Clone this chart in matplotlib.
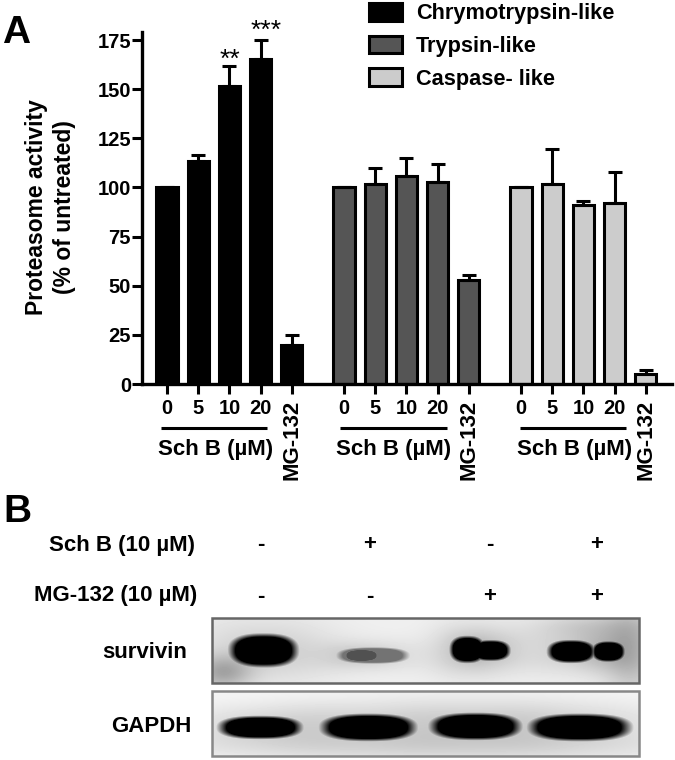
import matplotlib
matplotlib.use('Agg')
import matplotlib.pyplot as plt
import numpy as np
from matplotlib.patches import Rectangle

plt.rcParams['font.family'] = ['Liberation Sans', 'DejaVu Sans']
plt.rcParams['font.weight'] = 'bold'

# panel A values
doses = ['0', '5', '10', '20', 'MG-132']
chymo = [100, 113.5, 151.5, 165.5, 20]
chymo_err = [0, 3, 10.5, 9.5, 5]
tryp = [100, 101.5, 106, 103, 53]
tryp_err = [0, 8.5, 9, 9, 2.5]
casp = [100, 101.5, 91, 92, 5]
casp_err = [0, 18, 2, 16, 2]
names = ['Chrymotrypsin-like', 'Trypsin-like', 'Caspase- like']
colors = ['#000000', '#555555', '#cccccc']
yticks = [0, 25, 50, 75, 100, 125, 150, 175]

# panel B lane marks
lane_x = [261, 370, 490, 597]
schb_marks = ['-', '+', '-', '+']
mg_marks = ['-', '-', '+', '+']
# bands: centre x, centre y, half width, half height, darkness (image pixels)
survivin_bands = [(263, 650, 33, 16, 1.0), (372, 655, 35, 8, 0.55), (361, 655, 17, 6, 0.68),
                  (467, 649, 17, 13, 1.0), (490, 650, 19, 10, 1.0),
                  (571, 651, 23, 11, 1.0), (608, 651, 16, 10, 1.0)]
gapdh_bands = [(260, 727, 40, 11, 1.0), (368, 727, 46, 13, 1.0),
               (475, 726, 44, 13, 1.0), (579, 727, 49, 13, 1.0)]
# faint smears in the blot background
survivin_smears = [(222, 672, 20, 12, 0.25), (632, 650, 20, 35, 0.2), (590, 625, 40, 10, 0.12)]
gapdh_smears = [(420, 748, 210, 10, 0.06)]


def blot(ax, box, bands, smears, level, edge):
    x0, y0, x1, y1 = box
    xx, yy = np.meshgrid(np.arange(x0, x1), np.arange(y0, y1))
    dark = np.full(xx.shape, 1.0 - level)
    for cx, cy, w, h, s in smears:
        dark += s * np.exp(-0.5 * (((xx - cx) / w) ** 2 + ((yy - cy) / h) ** 2))
    for cx, cy, w, h, s in bands:
        r = (np.abs((xx - cx) / w) ** 2.5 + np.abs((yy - cy) / h) ** 2.5) ** (1 / 2.5)
        dark += 0.12 * s * np.exp(-0.5 * (r / 1.4) ** 2)
    for cx, cy, w, h, s in bands:
        r = (np.abs((xx - cx) / w) ** 2.5 + np.abs((yy - cy) / h) ** 2.5) ** (1 / 2.5)
        dark = np.maximum(dark, s * np.clip((1.15 - r) / 0.3, 0, 1))
    ax.imshow(1 - np.clip(dark, 0, 1), cmap='gray', vmin=0, vmax=1, extent=(x0, x1, y1, y0),
              aspect='auto', interpolation='bilinear')
    ax.add_patch(Rectangle((x0, y0), x1 - x0, y1 - y0, fill=False, ec=edge, lw=1.8))


fig = plt.figure(figsize=(6.75, 7.6), dpi=100)

# axes box in pixels: x 142-672, y 32-384
ax = fig.add_axes([142 / 675, 1 - 384 / 760, 530 / 675, 352 / 760])
unit = 31.2
gap = 177 / unit
pos = np.arange(5)
handles = []
for g, (vals, errs, col) in enumerate([(chymo, chymo_err, colors[0]),
                                       (tryp, tryp_err, colors[1]),
                                       (casp, casp_err, colors[2])]):
    x = pos + g * gap
    b = ax.bar(x, vals, width=0.68, color=col, edgecolor='black', linewidth=2.2)
    handles.append(b)
    ax.errorbar(x, vals, yerr=[np.zeros(5), errs], fmt='none', ecolor='black',
                elinewidth=2.2, capsize=5, capthick=2.2)

ax.set_xlim(-25 / unit, 505 / unit)
ax.set_ylim(0, 352 / (344 / 175))
ax.set_yticks(yticks)
ax.set_xticks(np.concatenate([pos + g * gap for g in range(3)]))
ax.set_xticklabels(doses * 3, va='top')
ax.tick_params(axis='both', width=2.2, length=7)
ax.tick_params(axis='y', pad=1, labelsize=14.5)
ax.tick_params(axis='x', pad=4)
for lab in ax.get_xticklabels():
    if lab.get_text() == 'MG-132':
        lab.set_rotation(90)
        lab.set_fontsize(16)
    else:
        lab.set_fontsize(14.5)
for side in ['top', 'right']:
    ax.spines[side].set_visible(False)
for side in ['left', 'bottom']:
    ax.spines[side].set_linewidth(2.4)
ax.patch.set_alpha(0)

ax.legend(handles, names, loc='upper left', bbox_to_anchor=(369 / 675, 1 - 3 / 760),
          bbox_transform=fig.transFigure, frameon=False, fontsize=15.7, borderpad=0,
          borderaxespad=0, handlelength=1.5, handleheight=0.88, labelspacing=0.515,
          handletextpad=0.66)

# full figure overlay in image pixels for the lettering and panel B
over = fig.add_axes([0, 0, 1, 1])
over.set_axis_off()
over.patch.set_alpha(0)
blot(over, (212, 618, 639, 683), survivin_bands, survivin_smears, 0.94, '#666666')
blot(over, (212, 691, 639, 756), gapdh_bands, gapdh_smears, 0.97, '#888888')
over.set_xlim(0, 675)
over.set_ylim(760, 0)

for x0, x1, xc in [(161, 267, 215.5), (340, 447, 394), (520, 626, 574.5)]:
    over.plot([x0, x1], [428, 428], color='black', lw=2.2, solid_capstyle='butt')
    over.text(xc, 449, 'Sch B (\u00b5M)', ha='center', va='center', fontsize=16)

over.text(230, 60, '**', ha='center', va='center', fontsize=19, fontweight='normal')
over.text(266, 31, '***', ha='center', va='center', fontsize=19, fontweight='normal')

over.text(2, 33, 'A', fontsize=28, ha='left', va='center')
over.text(3, 512, 'B', fontsize=28, ha='left', va='center')
over.text(37, 207, 'Proteasome activity', rotation=90, ha='center', va='center', fontsize=16.5)
over.text(65, 207, '(% of untreated)', rotation=90, ha='center', va='center', fontsize=16.5)

over.text(195, 545, 'Sch B (10 \u00b5M)', ha='right', va='center', fontsize=16)
over.text(197, 596, 'MG-132 (10 \u00b5M)', ha='right', va='center', fontsize=16)
for xp, a, m in zip(lane_x, schb_marks, mg_marks):
    over.text(xp, 545, a, ha='center', va='center', fontsize=16)
    over.text(xp, 596, m, ha='center', va='center', fontsize=16)
over.text(187, 653, 'survivin', ha='right', va='center', fontsize=16)
over.text(192, 726, 'GAPDH', ha='right', va='center', fontsize=16)

fig.savefig('out.png', dpi=100)
